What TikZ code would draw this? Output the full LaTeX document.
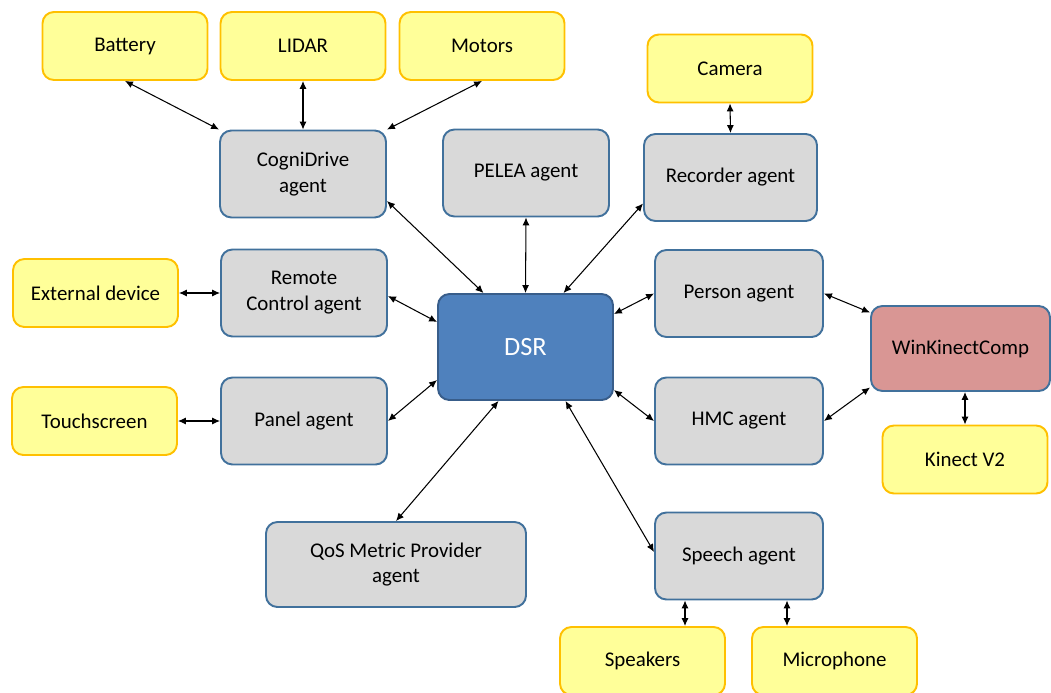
\documentclass[tikz,border=0pt]{standalone}
\usepackage{fontspec}
\setmainfont{Carlito}
\usepackage{xcolor}
\usetikzlibrary{arrows.meta,positioning,calc}

\definecolor{devfill}{RGB}{255,255,153}
\definecolor{devline}{RGB}{255,192,0}
\definecolor{agentfill}{RGB}{217,217,217}
\definecolor{agentline}{RGB}{65,113,156}
\definecolor{dsrfill}{RGB}{79,129,189}
\definecolor{dsrline}{RGB}{56,93,138}
\definecolor{compfill}{RGB}{217,150,148}

\begin{document}
\begin{tikzpicture}[
  font=\fontsize{11.9}{14.7}\selectfont,
  box/.style={rounded corners=6.5pt, line width=1.1pt, align=center, inner sep=2pt},
  dev/.style={box, draw=devline, fill=devfill, minimum width=3.3cm, minimum height=1.36cm},
  agent/.style={box, draw=agentline, fill=agentfill, minimum width=3.32cm, minimum height=1.74cm},
  core/.style={box, draw=dsrline, fill=dsrfill, text=white, minimum width=3.5cm, minimum height=2.12cm, font=\fontsize{15}{18}\selectfont},
  comp/.style={box, draw=agentline, fill=compfill, minimum width=3.58cm, minimum height=1.7cm},
  every edge/.style={draw, line width=0.6pt, {Latex[length=4.5pt,width=4pt]}-{Latex[length=4.5pt,width=4pt]}}
]
  \useasboundingbox (0,0) rectangle (21.02,-13.86);

  % core
  \node[core] (dsr) at (10.51,-6.94) {DSR};

  % agents
  \node[agent] (cd) at (6.06,-3.48) {CogniDrive\\agent};
  \node[agent] (pel) at (10.52,-3.46) {PELEA agent};
  \node[agent, minimum width=3.46cm] (rec) at (14.61,-3.55) {Recorder agent};
  \node[agent] (rc) at (6.08,-5.86) {Remote\\Control agent};
  \node[agent] (pan) at (6.08,-8.42) {Panel agent};
  \node[agent, minimum width=3.36cm] (per) at (14.78,-5.87) {Person agent};
  \node[agent, minimum width=3.36cm] (hmc) at (14.78,-8.42) {HMC agent};
  \node[agent, minimum width=3.36cm] (sp) at (14.78,-11.12) {Speech agent};
  \node[agent, minimum width=5.2cm, minimum height=1.7cm] (qos) at (7.92,-11.29) {QoS Metric Provider\\agent};
  \node[comp] (wkc) at (19.21,-6.97) {WinKinectComp};

  % devices
  \node[dev] (bat) at (2.50,-0.92) {Battery};
  \node[dev] (lid) at (6.06,-0.92) {LIDAR};
  \node[dev] (mot) at (9.64,-0.92) {Motors};
  \node[dev] (cam) at (14.60,-1.37) {Camera};
  \node[dev] (ext) at (1.91,-5.86) {External device};
  \node[dev] (tch) at (1.89,-8.42) {Touchscreen};
  \node[dev] (kin) at (19.30,-9.19) {Kinect V2};
  \node[dev] (spk) at (12.85,-13.22) {Speakers};
  \node[dev] (mic) at (16.69,-13.22) {Microphone};

  % device links
  \path (bat.south) edge (cd.north west);
  \path (lid.south) edge (cd.north);
  \path (mot.south) edge (cd.north east);
  \path (cam.south) edge (rec.north);
  \path (ext.east) edge (rc.west);
  \path (tch.east) edge (pan.west);
  \path (kin.north |- wkc.south) edge (kin.north);
  \path ([xshift=-1.08cm]sp.south) edge ([xshift=-1.08cm]sp.south |- spk.north);
  \path ([xshift=0.96cm]sp.south) edge ([xshift=0.96cm]sp.south |- mic.north);

  % DSR links
  \path ([yshift=-0.54cm]cd.east) edge ([xshift=-0.84cm]dsr.north);
  \path (pel.south) edge (dsr.north);
  \path ([yshift=-0.52cm]rec.west) edge ([xshift=0.76cm]dsr.north);
  \path ([yshift=-0.06cm]rc.east) edge ([yshift=0.5cm]dsr.west);
  \path (pan.east) edge ([yshift=-0.66cm]dsr.west);
  \path (per.west) edge ([yshift=0.66cm]dsr.east);
  \path (hmc.west) edge ([yshift=-0.86cm]dsr.east);
  \path ([xshift=-0.54cm]dsr.south) edge (qos.north);
  \path ([xshift=0.8cm]dsr.south) edge ([yshift=0.08cm]sp.west);

  % WinKinectComp links
  \path (per.east) edge ([yshift=0.72cm]wkc.west);
  \path (hmc.east) edge ([yshift=-0.78cm]wkc.west);
\end{tikzpicture}
\end{document}
